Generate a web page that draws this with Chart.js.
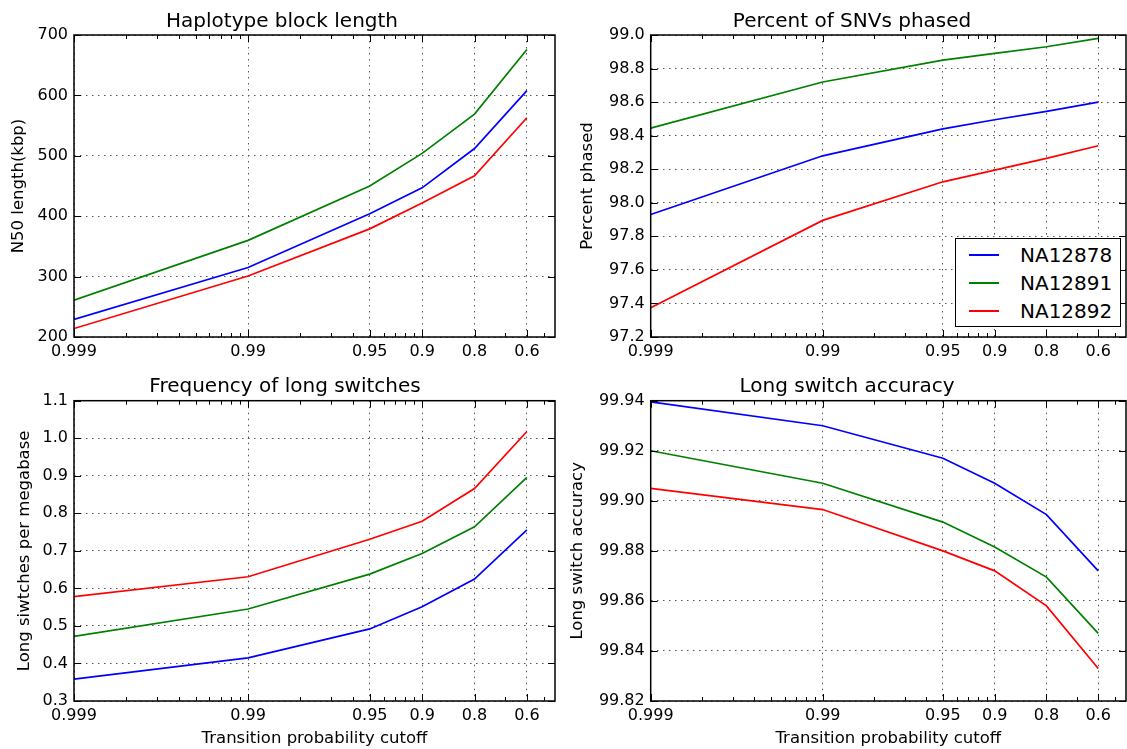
<!DOCTYPE html>
<html>
<head>
<meta charset="utf-8">
<script src="https://cdn.jsdelivr.net/npm/chart.js@4"></script>
<style>
  body { margin: 0; background: #fff; font-family: 'DejaVu Sans', sans-serif; }
  .wrap { position: relative; width: 1127px; height: 749px; overflow: hidden; }
  canvas { position: absolute; }
  #legend {
    position: absolute; left: 955px; top: 238px; width: 166px; height: 89px;
    box-sizing: border-box; border: 1.5px solid #000; background: #fff;
    padding-top: 2px; font-size: 20px; color: #000;
  }
  #legend .row { height: 28px; display: flex; align-items: center; }
  #legend .swatch { margin-left: 13px; width: 30px; height: 0; border-top: 2px solid; }
  #legend .label { margin-left: 21px; }
</style>
</head>
<body>
<div class="wrap">
  <canvas id="c1" width="563" height="370" style="left:0;top:0"></canvas>
  <canvas id="c2" width="564" height="370" style="left:563px;top:0"></canvas>
  <canvas id="c3" width="563" height="379" style="left:0;top:370px"></canvas>
  <canvas id="c4" width="564" height="379" style="left:563px;top:370px"></canvas>
  <div id="legend"></div>
</div>
<script>
// transition probability cutoffs (x axis, log of 1 - p)
const cutoffs = [0.999, 0.99, 0.95, 0.9, 0.8, 0.6];
const cutoffLabels = ['0.999', '0.99', '0.95', '0.9', '0.8', '0.6'];

const samples = ['NA12878', 'NA12891', 'NA12892'];
const colors = ['#0000ff', '#008000', '#ff0000'];

// N50 length (kbp)
const n50NA12878 = [229, 315, 404, 447, 512, 608];
const n50NA12891 = [261, 360, 450, 504, 569, 676];
const n50NA12892 = [214, 301, 379, 422, 467, 563];

// percent of SNVs phased
const phasedNA12878 = [97.93, 98.28, 98.44, 98.495, 98.545, 98.60];
const phasedNA12891 = [98.445, 98.72, 98.85, 98.89, 98.93, 98.98];
const phasedNA12892 = [97.375, 97.895, 98.125, 98.195, 98.265, 98.34];

// long switches per megabase
const switchesNA12878 = [0.358, 0.415, 0.492, 0.551, 0.625, 0.756];
const switchesNA12891 = [0.472, 0.545, 0.638, 0.693, 0.764, 0.896];
const switchesNA12892 = [0.578, 0.631, 0.731, 0.779, 0.866, 1.018];

// long switch accuracy
const accuracyNA12878 = [99.9395, 99.930, 99.917, 99.907, 99.8945, 99.872];
const accuracyNA12891 = [99.920, 99.907, 99.8915, 99.8815, 99.8695, 99.847];
const accuracyNA12892 = [99.905, 99.8965, 99.880, 99.872, 99.858, 99.833];

// log minor ticks (2..9 per decade)
const minorTicks = [];
[0.001, 0.01, 0.1].forEach(d => {
    for (let k = 2; k <= 9; k++) minorTicks.push(d * k);
});

Chart.defaults.font.family = "'DejaVu Sans', sans-serif";
Chart.defaults.color = '#000';

// matplotlib style frame with inward ticks
const frameTicks = {
    id: 'frameTicks',
    afterDatasetsDraw(chart) {
        const {ctx, chartArea: a, scales: {x, y}} = chart;
        ctx.save();
        ctx.strokeStyle = '#000';
        ctx.lineWidth = 1;
        ctx.beginPath();
        minorTicks.filter(v => v < x.max).forEach(v => {
            const px = Math.round(x.getPixelForValue(v)) + 0.5;
            ctx.moveTo(px, a.bottom); ctx.lineTo(px, a.bottom - 4);
            ctx.moveTo(px, a.top); ctx.lineTo(px, a.top + 4);
        });
        x.ticks.forEach(t => {
            const px = Math.round(x.getPixelForValue(t.value)) + 0.5;
            ctx.moveTo(px, a.bottom); ctx.lineTo(px, a.bottom - 7);
            ctx.moveTo(px, a.top); ctx.lineTo(px, a.top + 7);
        });
        y.ticks.forEach(t => {
            const py = Math.round(y.getPixelForValue(t.value)) + 0.5;
            ctx.moveTo(a.left, py); ctx.lineTo(a.left + 7, py);
            ctx.moveTo(a.right, py); ctx.lineTo(a.right - 7, py);
        });
        ctx.stroke();
        ctx.lineWidth = 1.5;
        ctx.strokeRect(a.left, a.top, a.right - a.left, a.bottom - a.top);
        ctx.restore();
    }
};

function makePanel(id, p) {
    const datasets = p.series.map((values, i) => ({
        label: samples[i],
        data: values.map((v, j) => ({x: 1 - cutoffs[j], y: v})),
        borderColor: colors[i],
        borderWidth: 1.7,
        pointRadius: 0,
        tension: 0,
        fill: false
    }));

    return new Chart(document.getElementById(id), {
        type: 'line',
        data: {datasets: datasets},
        plugins: [frameTicks],
        options: {
            responsive: false,
            animation: false,
            layout: {padding: p.padding},
            plugins: {
                legend: {display: false},
                tooltip: {enabled: false},
                title: {
                    display: true,
                    text: p.title,
                    color: '#000',
                    font: {size: 20, weight: 'normal'},
                    padding: p.titlePadding
                }
            },
            scales: {
                x: {
                    type: 'logarithmic',
                    min: 1 - cutoffs[0],
                    max: 0.58,
                    afterBuildTicks: s => {
                        s.ticks = cutoffs.map(c => ({value: 1 - c}));
                    },
                    afterFit: s => { s.height = p.xHeight; },
                    ticks: {
                        callback: (v, i) => cutoffLabels[i],
                        autoSkip: false,
                        maxRotation: 0,
                        padding: 5,
                        color: '#000',
                        font: {size: 16}
                    },
                    grid: {color: '#555', drawTicks: false},
                    border: {display: false, dash: [1.5, 4.5]},
                    title: {
                        display: !!p.xTitle,
                        text: p.xTitle,
                        color: '#000',
                        font: {size: 16.5},
                        padding: 0
                    }
                },
                y: {
                    min: p.yMin,
                    max: p.yMax,
                    afterFit: s => { s.width = p.yWidth; },
                    ticks: {
                        stepSize: p.yStep,
                        callback: v => v.toFixed(p.digits),
                        padding: 6,
                        color: '#000',
                        font: {size: 16}
                    },
                    grid: {color: '#555', drawTicks: false},
                    border: {display: false, dash: [1.5, 4.5]},
                    title: {
                        display: true,
                        text: p.yTitle,
                        color: '#000',
                        font: {size: 16.5},
                        padding: 0
                    }
                }
            }
        }
    });
}

makePanel('c1', {
    title: 'Haplotype block length',
    yTitle: 'N50 length(kbp)',
    yMin: 200, yMax: 700, yStep: 100, digits: 0,
    series: [n50NA12878, n50NA12891, n50NA12892],
    padding: {left: 9.1, right: 8, top: 0, bottom: 0},
    titlePadding: {top: 9.5, bottom: 1.5},
    yWidth: 64.9, xHeight: 33
});

makePanel('c2', {
    title: 'Percent of SNVs phased',
    yTitle: 'Percent phased',
    yMin: 97.2, yMax: 99.0, yStep: 0.2, digits: 1,
    series: [phasedNA12878, phasedNA12891, phasedNA12892],
    padding: {left: 15.1, right: 1, top: 0, bottom: 0},
    titlePadding: {top: 9.5, bottom: 1.5},
    yWidth: 72.6, xHeight: 33
});

makePanel('c3', {
    title: 'Frequency of long switches',
    yTitle: 'Long siwtches per megabase',
    xTitle: 'Transition probability cutoff',
    yMin: 0.3, yMax: 1.1, yStep: 0.1, digits: 1,
    series: [switchesNA12878, switchesNA12891, switchesNA12892],
    padding: {left: 15.1, right: 8, top: 0, bottom: 0.8},
    titlePadding: {top: 4.5, bottom: 2.2},
    yWidth: 58.9, xHeight: 47.2
});

makePanel('c4', {
    title: 'Long switch accuracy',
    yTitle: 'Long switch accuracy',
    xTitle: 'Transition probability cutoff',
    yMin: 99.82, yMax: 99.94, yStep: 0.02, digits: 2,
    series: [accuracyNA12878, accuracyNA12891, accuracyNA12892],
    padding: {left: 5.1, right: 1, top: 0, bottom: 0.8},
    titlePadding: {top: 4.5, bottom: 2.2},
    yWidth: 82.6, xHeight: 47.2
});

// legend for the sample lines
const legend = document.getElementById('legend');
samples.forEach((name, i) => {
    const row = document.createElement('div');
    row.className = 'row';
    row.innerHTML = '<div class="swatch" style="border-color:' + colors[i] + '"></div>' +
        '<div class="label">' + name + '</div>';
    legend.appendChild(row);
});
</script>
</body>
</html>
